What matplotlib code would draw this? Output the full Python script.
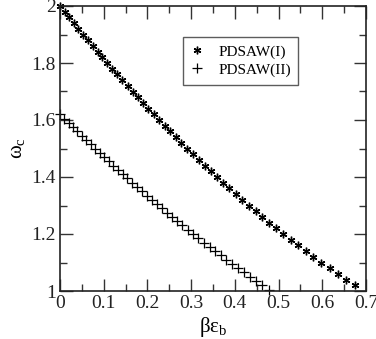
import matplotlib
matplotlib.use('Agg')
import matplotlib.pyplot as plt
from matplotlib.ticker import MultipleLocator, FormatStrFormatter

plt.rcParams['font.family'] = ['Liberation Serif', 'DejaVu Serif']
plt.rcParams['mathtext.fontset'] = 'custom'
plt.rcParams['mathtext.rm'] = 'Liberation Serif'
plt.rcParams['mathtext.it'] = 'Liberation Serif:italic'

# PDSAW(I): beta*eps_b vs omega_c
x_one = [0.0, 0.0105, 0.0210, 0.0316, 0.0423, 0.0531, 0.0640, 0.0750, 0.0860, 0.0972,
         0.1084, 0.1198, 0.1312, 0.1428, 0.1545, 0.1662, 0.1781, 0.1902, 0.2023, 0.2146,
         0.2270, 0.2395, 0.2521, 0.2650, 0.2779, 0.2910, 0.3043, 0.3177, 0.3314, 0.3451,
         0.3591, 0.3733, 0.3876, 0.4022, 0.4170, 0.4321, 0.4473, 0.4629, 0.4786, 0.4947,
         0.5111, 0.5278, 0.5448, 0.5621, 0.5799, 0.5980, 0.6166, 0.6356, 0.6551, 0.6752]
w_one = [2.00, 1.98, 1.96, 1.94, 1.92, 1.90, 1.88, 1.86, 1.84, 1.82,
         1.80, 1.78, 1.76, 1.74, 1.72, 1.70, 1.68, 1.66, 1.64, 1.62,
         1.60, 1.58, 1.56, 1.54, 1.52, 1.50, 1.48, 1.46, 1.44, 1.42,
         1.40, 1.38, 1.36, 1.34, 1.32, 1.30, 1.28, 1.26, 1.24, 1.22,
         1.20, 1.18, 1.16, 1.14, 1.12, 1.10, 1.08, 1.06, 1.04, 1.02]

# PDSAW(II)
x_two = [0.0, 0.0098, 0.0196, 0.0295, 0.0395, 0.0495, 0.0597, 0.0698, 0.0801, 0.0905,
         0.1009, 0.1114, 0.1220, 0.1326, 0.1434, 0.1542, 0.1652, 0.1762, 0.1873, 0.1986,
         0.2099, 0.2213, 0.2328, 0.2445, 0.2562, 0.2681, 0.2801, 0.2922, 0.3045, 0.3168,
         0.3293, 0.3420, 0.3548, 0.3677, 0.3808, 0.3940, 0.4075, 0.4211, 0.4348, 0.4488,
         0.4630, 0.4773]
w_two = [1.620, 1.605, 1.590, 1.575, 1.560, 1.545, 1.530, 1.515, 1.500, 1.485,
         1.470, 1.455, 1.440, 1.425, 1.410, 1.395, 1.380, 1.365, 1.350, 1.335,
         1.320, 1.305, 1.290, 1.275, 1.260, 1.245, 1.230, 1.215, 1.200, 1.185,
         1.170, 1.155, 1.140, 1.125, 1.110, 1.095, 1.080, 1.065, 1.050, 1.035,
         1.020, 1.005]

fig = plt.figure(figsize=(3.76, 3.39), dpi=100)
ax = fig.add_axes([60 / 376, 1 - 291 / 339, 306 / 376, 285 / 339])

ax.plot(x_one, w_one, linestyle='none', marker=(6, 2, 0), markersize=5.5,
        markeredgewidth=1.0, color='black', label='PDSAW(I)', clip_on=False)
ax.plot(x_two, w_two, linestyle='none', marker='+', markersize=6.5,
        markeredgewidth=0.9, color='black', label='PDSAW(II)', clip_on=False)

ax.set_xlim(0, 0.7)
ax.set_ylim(1, 2)
ax.xaxis.set_major_locator(MultipleLocator(0.1))
ax.xaxis.set_minor_locator(MultipleLocator(0.05))
ax.yaxis.set_major_locator(MultipleLocator(0.2))
ax.yaxis.set_minor_locator(MultipleLocator(0.1))
ax.xaxis.set_major_formatter(FormatStrFormatter('%g'))
ax.yaxis.set_major_formatter(FormatStrFormatter('%g'))
ax.tick_params(which='both', direction='in', top=True, right=True, width=1.0,
               labelsize=14, colors='#333333', labelcolor='#222222')
ax.tick_params(which='major', length=9, pad=3)
ax.tick_params(which='minor', length=5)
for s in ax.spines.values():
    s.set_linewidth(1.2)
    s.set_color('#222222')

ax.set_xlabel('βε$_\\mathrm{b}$', fontsize=15, labelpad=2)
ax.set_ylabel('ω$_\\mathrm{c}$', fontsize=15, labelpad=3)

#legend box
leg = ax.legend(loc='upper left', bbox_to_anchor=((183 - 60) / 306, 1 - (37 - 6) / 285),
                fontsize=11, frameon=True, fancybox=False, handlelength=0.8,
                handletextpad=1.0, borderpad=0.5, labelspacing=0.3, borderaxespad=0)
leg.get_frame().set_edgecolor('#333333')
leg.get_frame().set_linewidth(1.0)

fig.savefig('out.png', dpi=100)
